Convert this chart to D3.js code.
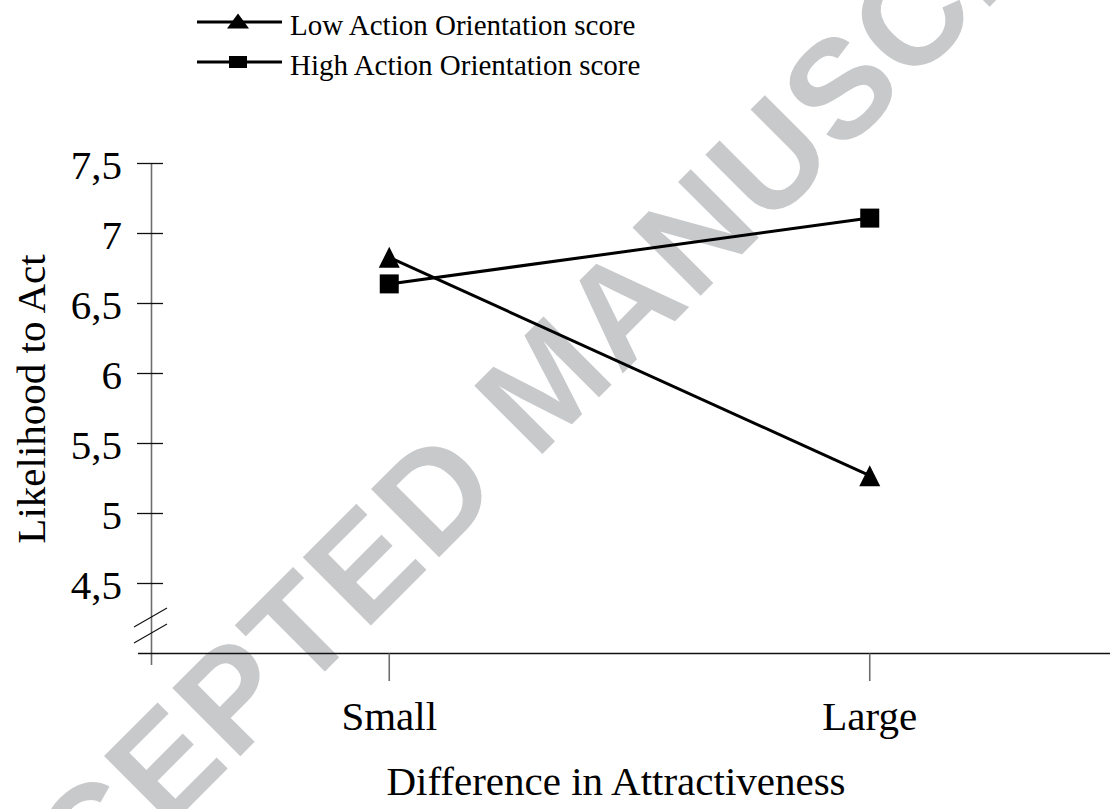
<!DOCTYPE html>
<html>
<head>
<meta charset="utf-8">
<script src="https://cdn.jsdelivr.net/npm/d3@7"></script>
<style>
  body { margin: 0; background: #fff; }
  text { font-family: "Liberation Serif", "Times New Roman", serif; fill: #000; }
</style>
</head>
<body>
<div id="vis"></div>
<script>

// chart data
var categories = ["Small", "Large"];
var lowScores = [6.83, 5.27];   // Low Action Orientation score
var highScores = [6.64, 7.11];  // High Action Orientation score
var yTicks = [4.5, 5, 5.5, 6, 6.5, 7, 7.5];
var seriesNames = ["Low Action Orientation score", "High Action Orientation score"];

var width = 1110, height = 809;

var svg = d3.select("#vis").append("svg")
	.attr("width", width)
	.attr("height", height);

// watermark sits under everything
svg.append("text")
	.attr("transform", "translate(-91,1016) rotate(-45)")
	.attr("dy", "0.36em")
	.style("font-family", "'Liberation Sans', Arial, sans-serif")
	.style("font-weight", "bold")
	.style("font-size", "140px")
	.style("letter-spacing", "3px")
	.style("fill", "#c8c9cb")
	.text("ACCEPTED MANUSCRIPT");

var x = d3.scalePoint()
	.domain(categories)
	.range([149, 1110])
	.padding(0.5);

var y = d3.scaleLinear()
	.domain([4, 7.5])
	.range([653.5, 163.5]);

var axisX = 151.5;

// y axis line
svg.append("line")
	.attr("x1", axisX).attr("x2", axisX)
	.attr("y1", y(7.5)).attr("y2", 665)
	.attr("stroke", "#6e6e6e").attr("stroke-width", 1.6);

// y ticks
var yt = svg.append("g");
yt.selectAll("line").data(yTicks).enter().append("line")
	.attr("x1", 137).attr("x2", 163)
	.attr("y1", d => y(d)).attr("y2", d => y(d))
	.attr("stroke", "#111").attr("stroke-width", 1.3);

yt.selectAll("text").data(yTicks).enter().append("text")
	.attr("x", 122)
	.attr("y", d => y(d) + 15)
	.attr("text-anchor", "end")
	.style("font-size", "41px")
	.text(d => String(d).replace(".", ","));

// axis break marks
var breaks = [[627, 608], [643, 624]];
svg.selectAll(".brk").data(breaks).enter().append("line")
	.attr("class", "brk")
	.attr("x1", 134).attr("x2", 167)
	.attr("y1", d => d[0]).attr("y2", d => d[1])
	.attr("stroke", "#111").attr("stroke-width", 1.1);

// x axis line
svg.append("line")
	.attr("x1", 138).attr("x2", width)
	.attr("y1", y(4)).attr("y2", y(4))
	.attr("stroke", "#111").attr("stroke-width", 1.4);

// x ticks
svg.selectAll(".xt").data(categories).enter().append("line")
	.attr("class", "xt")
	.attr("x1", d => x(d)).attr("x2", d => x(d))
	.attr("y1", y(4)).attr("y2", 681)
	.attr("stroke", "#6e6e6e").attr("stroke-width", 1.6);

svg.selectAll(".xl").data(categories).enter().append("text")
	.attr("class", "xl")
	.attr("x", d => x(d))
	.attr("y", 730)
	.attr("text-anchor", "middle")
	.style("font-size", "41px")
	.text(d => d);

// axis titles
svg.append("text")
	.attr("x", 616).attr("y", 795)
	.attr("text-anchor", "middle")
	.style("font-size", "41px")
	.text("Difference in Attractiveness");

svg.append("text")
	.attr("transform", "translate(45,399) rotate(-90)")
	.attr("text-anchor", "middle")
	.style("font-size", "41px")
	.text("Likelihood to Act");

// markers
function triangle(cx, cy, w, h) {
	return "M" + cx + "," + (cy - h / 2) + "L" + (cx + w / 2) + "," + (cy + h / 2) +
		"L" + (cx - w / 2) + "," + (cy + h / 2) + "Z";
}

var line = d3.line()
	.x((d, i) => x(categories[i]))
	.y(d => y(d));

svg.append("path").datum(lowScores)
	.attr("d", line)
	.attr("fill", "none").attr("stroke", "#000").attr("stroke-width", 3);

svg.append("path").datum(highScores)
	.attr("d", line)
	.attr("fill", "none").attr("stroke", "#000").attr("stroke-width", 3);

svg.selectAll(".tri").data(lowScores).enter().append("path")
	.attr("class", "tri")
	.attr("d", (d, i) => triangle(x(categories[i]), y(d), 21, 21))
	.attr("fill", "#000");

svg.selectAll(".sq").data(highScores).enter().append("rect")
	.attr("class", "sq")
	.attr("x", (d, i) => x(categories[i]) - 9.5)
	.attr("y", d => y(d) - 9.5)
	.attr("width", 19).attr("height", 19)
	.attr("fill", "#000");

// legend
var legend = svg.append("g");
var legY = [22, 62];

legend.selectAll("line").data(seriesNames).enter().append("line")
	.attr("x1", 197).attr("x2", 282)
	.attr("y1", (d, i) => legY[i]).attr("y2", (d, i) => legY[i])
	.attr("stroke", "#000").attr("stroke-width", 3);

legend.append("path")
	.attr("d", triangle(238, legY[0] - 1, 22, 15))
	.attr("fill", "#000");

legend.append("rect")
	.attr("x", 229).attr("y", legY[1] - 6)
	.attr("width", 18).attr("height", 12)
	.attr("fill", "#000");

legend.selectAll("text").data(seriesNames).enter().append("text")
	.attr("x", 290)
	.attr("y", (d, i) => legY[i] + 13)
	.style("font-size", "29px")
	.text(d => d);

</script>
</body>
</html>
